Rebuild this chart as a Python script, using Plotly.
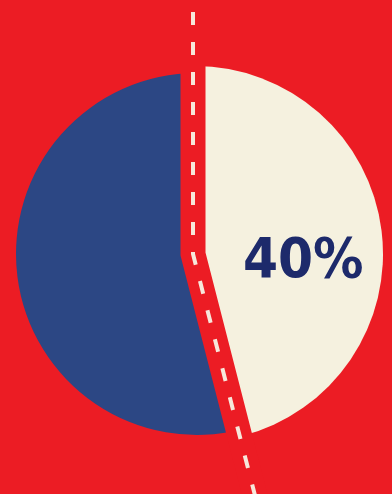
import math
import plotly.graph_objects as go

# ---- data ----
slice_names = ["Cream share", "Blue share"]
slice_values = [46, 54]          # drawn slice sizes
slice_label = "40%"              # printed label on the cream slice

# ---- style / layout ----
W, H = 392, 494
RED = "#ec1c24"
CREAM = "#f5f1df"
BLUE = "#2c4784"
NAVY = "#1d2a6b"
DASH_COL = "#f7e7db"
CLEAR = "rgba(0,0,0,0)"

# centres (px from top-left) and radii of the two drawn pieces
cream_c, cream_r = (195, 254), 188
blue_c, blue_r = (197, 254), 181
vertex = (193, 254)   # where the split line bends


def domain(c, r):
    cx, cy = c
    return dict(x=[(cx - r) / W, (cx + r) / W],
                y=[(H - cy - r) / H, (H - cy + r) / H])


fig = go.Figure()
fig.add_trace(go.Pie(
    labels=slice_names, values=slice_values, sort=False,
    direction="clockwise", rotation=0,
    marker=dict(colors=[CREAM, CLEAR], line=dict(width=0)),
    textinfo="none", hoverinfo="skip", showlegend=False,
    domain=domain(cream_c, cream_r)))
fig.add_trace(go.Pie(
    labels=slice_names, values=slice_values, sort=False,
    direction="clockwise", rotation=0,
    marker=dict(colors=[CLEAR, BLUE], line=dict(width=0)),
    textinfo="none", hoverinfo="skip", showlegend=False,
    domain=domain(blue_c, blue_r)))

# split line derived from the slice boundary angle
ang = math.radians(360 * slice_values[0] / sum(slice_values))
dx, dy = math.sin(ang), -math.cos(ang)   # screen direction (y down)
top_y = 12
bot_y = 500
t = (bot_y - vertex[1]) / dy
pts = [(vertex[0], top_y), vertex, (vertex[0] + dx * t, bot_y)]


def to_paper(p):
    return p[0] / W, 1 - p[1] / H


path = "M " + " L ".join(f"{to_paper(p)[0]:.5f},{to_paper(p)[1]:.5f}" for p in pts)

fig.add_shape(type="path", path=path, xref="paper", yref="paper",
              line=dict(color=RED, width=25), layer="above")
fig.add_shape(type="path", path=path, xref="paper", yref="paper",
              line=dict(color=DASH_COL, width=4, dash="13px,17px"),
              layer="above")

fig.add_annotation(text=f"<b>{slice_label}</b>", x=303 / W, y=1 - 257 / H,
                   xref="paper", yref="paper", showarrow=False,
                   xanchor="center", yanchor="middle",
                   font=dict(family="DejaVu Sans Condensed, sans-serif",
                             size=56, color=NAVY))

fig.update_layout(width=W, height=H, margin=dict(l=0, r=0, t=0, b=0),
                  paper_bgcolor=RED, plot_bgcolor=RED, showlegend=False)

fig.write_html("out.html")
